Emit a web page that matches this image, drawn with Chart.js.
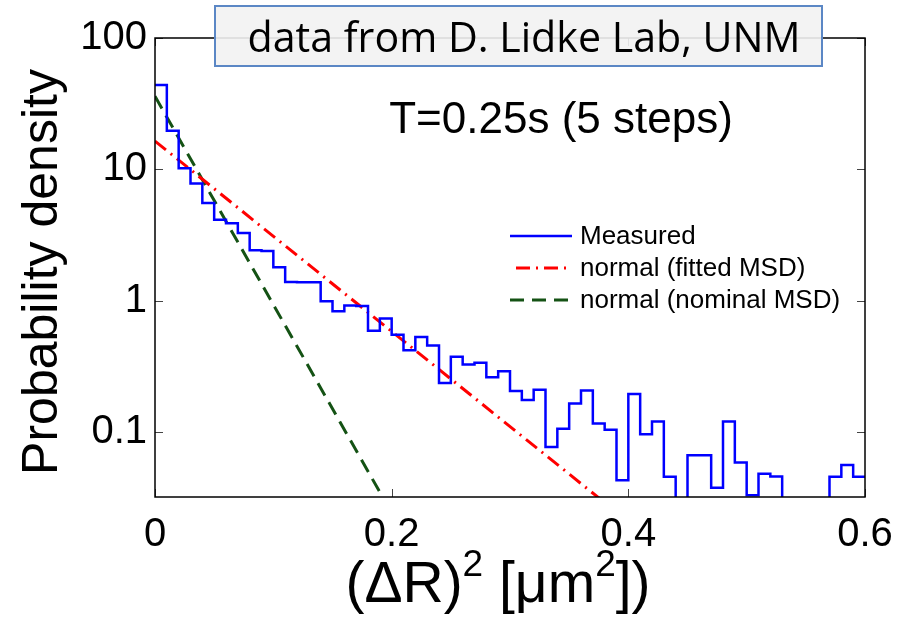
<!DOCTYPE html>
<html>
<head>
<meta charset="utf-8">
<script src="https://cdn.jsdelivr.net/npm/chart.js@4.4.1/dist/chart.umd.min.js"></script>
<style>
  html, body { margin: 0; padding: 0; background: #fff; }
  #wrap { position: relative; width: 900px; height: 617px; }
</style>
</head>
<body>
<div id="wrap"><canvas id="msdChart" width="900" height="617"></canvas></div>
<script>
// Distribution of squared displacement (dR)^2 after T = 0.25 s, log-scale density

// Histogram: bins of width 0.01 um^2 starting at 0, density per bin (0 = empty bin)
const binWidth = 0.01;
const measured = [
  43.8, 19.7, 10.2, 7.8, 5.55, 4.13, 3.88, 3.27, 2.42, 2.39,
  1.8, 1.39, 1.38, 1.38, 0.99, 0.83, 0.92, 0.91, 0.59, 0.73,
  0.55, 0.42, 0.53, 0.456, 0.236, 0.374, 0.326, 0.337, 0.261, 0.29,
  0.205, 0.175, 0.21, 0.077, 0.106, 0.165, 0.207, 0.116, 0.104, 0.043,
  0.195, 0.096, 0.12, 0.0457, 0, 0.0666, 0.0666, 0.0376, 0.12, 0.0586,
  0.033, 0.048, 0.0459, 0, 0, 0, 0, 0.0457, 0.056, 0.0457
];

// the two normal-model curves (straight lines on the log axis), end points
const fittedX = [0, 0.38];
const fittedY = [16.4, 0.029];
const nominalX = [0, 0.196];
const nominalY = [36, 0.028];

const xTicks = [0, 0.2, 0.4, 0.6];
const yTicks = [0.1, 1, 10, 100];
const seriesNames = ['Measured', 'normal (fitted MSD)', 'normal (nominal MSD)'];

const FONT = '"Liberation Sans", Arial, Helvetica, sans-serif';

// step points at the left edge of each bin, plus closing point at the right end
const histPoints = measured.map((v, i) => ({ x: i * binWidth, y: v > 0 ? v : 1e-6 }));
histPoints.push({ x: measured.length * binWidth, y: histPoints[histPoints.length - 1].y });

const toPoints = (xs, ys) => xs.map((x, i) => ({ x: x, y: ys[i] }));

// draws box, inward ticks, axis titles, legend and the text notes
const overlay = {
  id: 'overlay',
  afterDraw(chart) {
    const ctx = chart.ctx;
    const a = chart.chartArea;
    const xs = chart.scales.x, ys = chart.scales.y;
    ctx.save();

    // inward tick marks
    ctx.strokeStyle = '#444';
    ctx.lineWidth = 1;
    ctx.beginPath();
    xs.ticks.forEach(t => {
      const px = Math.round(xs.getPixelForValue(t.value)) + 0.5;
      ctx.moveTo(px, a.bottom); ctx.lineTo(px, a.bottom - 8);
      ctx.moveTo(px, a.top); ctx.lineTo(px, a.top + 8);
    });
    ys.ticks.forEach(t => {
      const py = Math.round(ys.getPixelForValue(t.value)) + 0.5;
      ctx.moveTo(a.left, py); ctx.lineTo(a.left + 8, py);
      ctx.moveTo(a.right, py); ctx.lineTo(a.right - 8, py);
    });
    ctx.stroke();

    // plot box
    ctx.strokeStyle = '#000';
    ctx.lineWidth = 1.5;
    ctx.strokeRect(a.left, a.top, a.right - a.left, a.bottom - a.top);

    // y axis title
    ctx.fillStyle = '#000';
    ctx.save();
    ctx.translate(57, 272);
    ctx.rotate(-Math.PI / 2);
    ctx.font = '50px ' + FONT;
    ctx.textAlign = 'center';
    ctx.textBaseline = 'alphabetic';
    ctx.fillText('Probability density', 0, 0);
    ctx.restore();

    // x axis title with superscripts
    const big = '57px ' + FONT, small = '37px ' + FONT;
    const parts = [['(\u0394R)', big, 0], ['2', small, -26], [' [\u03bcm', big, 0], ['2', small, -26], ['])', big, 0]];
    let total = 0;
    parts.forEach(p => { ctx.font = p[1]; total += ctx.measureText(p[0]).width; });
    let cx = 498 - total / 2;
    ctx.textAlign = 'left';
    parts.forEach(p => {
      ctx.font = p[1];
      ctx.fillText(p[0], cx, 602 + p[2]);
      cx += ctx.measureText(p[0]).width;
    });

    // time note
    ctx.font = '44px ' + FONT;
    ctx.textAlign = 'center';
    ctx.fillText('T=0.25s (5 steps)', 561, 133);

    // legend
    const rows = [236, 268, 300];
    chart.data.datasets.forEach((ds, i) => {
      const y = rows[i];
      ctx.strokeStyle = ds.borderColor;
      ctx.lineWidth = ds.borderWidth;
      ctx.setLineDash(ds.borderDash || []);
      ctx.lineDashOffset = ds.legendDashOffset || 0;
      ctx.beginPath();
      ctx.moveTo(510, y); ctx.lineTo(572, y);
      ctx.stroke();
      ctx.setLineDash([]);
      ctx.fillStyle = '#000';
      ctx.font = '26px ' + FONT;
      ctx.textAlign = 'left';
      ctx.textBaseline = 'middle';
      ctx.fillText(ds.label, 580, y + 1);
    });

    // source note box on top of the frame
    ctx.textBaseline = 'alphabetic';
    ctx.fillStyle = 'rgba(242,242,242,0.9)';
    ctx.fillRect(215, 6, 607, 60);
    ctx.strokeStyle = '#5b87c5';
    ctx.lineWidth = 2;
    ctx.strokeRect(215, 6, 607, 60);
    ctx.fillStyle = '#000';
    ctx.font = '42px "Open Sans", sans-serif';
    const note = 'data from D. Lidke Lab, UNM';
    const w = ctx.measureText(note).width;
    ctx.save();
    ctx.translate(524, 52);
    ctx.scale(553 / w, 1);
    ctx.textAlign = 'center';
    ctx.fillText(note, 0, 0);
    ctx.restore();

    ctx.restore();
  }
};

const ctx = document.getElementById('msdChart').getContext('2d');
const msdChart = new Chart(ctx, {
  type: 'line',
  data: {
    datasets: [{
      label: seriesNames[0],
      data: histPoints,
      borderColor: '#0000ff',
      borderWidth: 2.5,
      stepped: 'before',
      pointRadius: 0,
      fill: false
    }, {
      label: seriesNames[1],
      data: toPoints(fittedX, fittedY),
      borderColor: '#ff0000',
      borderWidth: 3,
      borderDash: [14, 6, 2, 6],
      legendDashOffset: 22,
      pointRadius: 0,
      fill: false
    }, {
      label: seriesNames[2],
      data: toPoints(nominalX, nominalY),
      borderColor: '#145214',
      borderWidth: 3,
      borderDash: [14, 8],
      pointRadius: 0,
      fill: false
    }]
  },
  options: {
    responsive: false,
    animation: false,
    devicePixelRatio: 1,
    layout: { padding: { top: 38, right: 35, left: 0, bottom: 0 } },
    plugins: { legend: { display: false }, tooltip: { enabled: false } },
    scales: {
      x: {
        type: 'linear',
        min: 0,
        max: 0.6,
        afterBuildTicks: s => { s.ticks = xTicks.map(v => ({ value: v })); },
        afterFit: s => { s.height = 120; s.paddingLeft = 0; s.paddingRight = 0; },
        grid: { display: false, drawTicks: false },
        border: { display: false },
        ticks: {
          color: '#000',
          padding: 14,
          maxRotation: 0,
          font: { family: FONT, size: 40 },
          callback: v => String(+v.toFixed(1))
        }
      },
      y: {
        type: 'logarithmic',
        min: 0.032,
        max: 100,
        afterBuildTicks: s => { s.ticks = yTicks.map(v => ({ value: v })); },
        afterFit: s => { s.width = 155; s.paddingTop = 0; s.paddingBottom = 0; },
        grid: { display: false, drawTicks: false },
        border: { display: false },
        ticks: {
          color: '#000',
          padding: 8,
          font: { family: FONT, size: 40 },
          callback: v => String(v)
        }
      }
    }
  },
  plugins: [overlay]
});
</script>
</body>
</html>
